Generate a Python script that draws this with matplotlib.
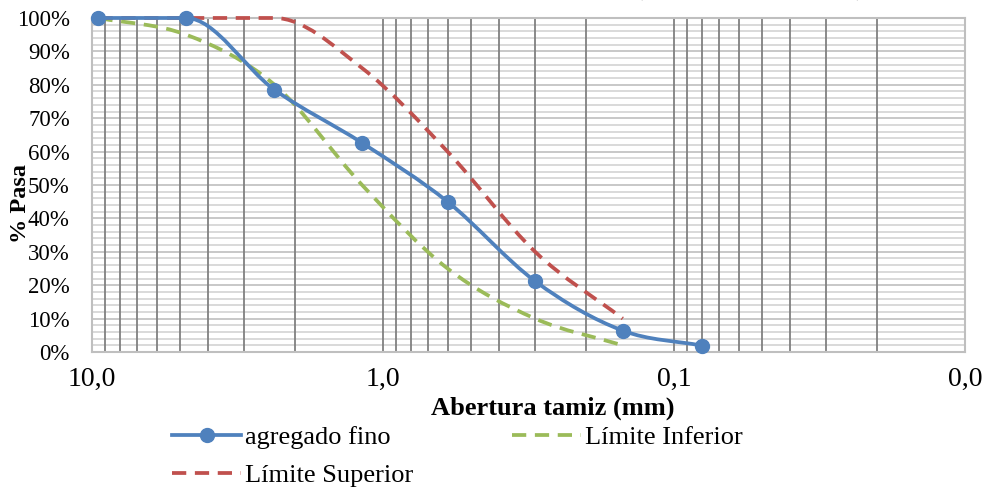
import numpy as np
import matplotlib
matplotlib.use("Agg")
import matplotlib.pyplot as plt
from matplotlib.path import Path
from matplotlib.patches import PathPatch
from matplotlib.lines import Line2D
from matplotlib.ticker import FixedLocator, FuncFormatter, LogLocator, MultipleLocator

plt.rcParams['font.family'] = ['Liberation Serif', 'DejaVu Serif']

# abertura de tamiz (mm) y porcentaje que pasa
tamiz = [9.5, 4.75, 2.36, 1.18, 0.6, 0.3, 0.15, 0.08]
agregado_fino = [100, 100, 78.5, 62.6, 45.0, 21.2, 6.4, 1.9]

tamiz_lim = [9.5, 4.75, 2.36, 1.18, 0.6, 0.3, 0.15]
lim_inferior = [100, 95, 80, 50, 25, 10, 2]
lim_superior = [100, 100, 100, 85, 60, 30, 10]

x_ticks = [10, 1, 0.1, 0.01]

azul = '#4F81BD'
verde = '#9BBB59'
rojo = '#C0504D'


def curva_suave(xs, ys):
    # curva suavizada (hermite monotona -> bezier) en espacio log-x
    lx = np.log10(xs)
    ys = np.asarray(ys, float)
    n = len(lx)
    dx = np.diff(lx)
    sec = np.diff(ys) / dx
    m = np.zeros(n)
    m[0] = sec[0]
    m[-1] = sec[-1]
    for i in range(1, n - 1):
        if sec[i - 1] * sec[i] <= 0:
            m[i] = 0.0
        else:
            m[i] = (sec[i - 1] + sec[i]) / 2
    if ys[0] == ys[1]:
        m[0] = 0.0
    verts = [(lx[0], ys[0])]
    codes = [Path.MOVETO]
    for i in range(n - 1):
        h = dx[i] / 3
        verts += [(lx[i] + h, ys[i] + m[i] * h),
                  (lx[i + 1] - h, ys[i + 1] - m[i + 1] * h),
                  (lx[i + 1], ys[i + 1])]
        codes += [Path.CURVE4] * 3
    verts = np.array(verts)
    verts[:, 0] = 10 ** verts[:, 0]
    return Path(verts, codes)


fig = plt.figure(figsize=(9.84, 4.9), dpi=100)
ax = fig.add_axes([0.0935, 0.2816, 0.8872, 0.6817])

ax.set_xscale('log')
ax.set_xlim(10, 0.01)
ax.set_ylim(0, 1)

# rejilla
ax.xaxis.set_major_locator(FixedLocator(x_ticks))
ax.xaxis.set_minor_locator(LogLocator(base=10, subs=np.arange(2, 10)))
ax.yaxis.set_major_locator(MultipleLocator(0.1))
ax.yaxis.set_minor_locator(MultipleLocator(0.02))
ax.grid(True, which='minor', axis='y', color='#D9D9D9', lw=1.4)
ax.grid(True, which='major', axis='y', color='#C8C8C8', lw=1.4)
ax.grid(True, which='both', axis='x', color='#808080', lw=1.3)
ax.set_axisbelow(True)
ax.xaxis.set_zorder(0.7)
for s in ax.spines.values():
    s.set_color('#BFBFBF')
    s.set_linewidth(1.5)

ax.xaxis.set_major_formatter(FuncFormatter(lambda v, p: f'{v:.1f}'.replace('.', ',')))
ax.xaxis.set_minor_formatter(FuncFormatter(lambda v, p: ''))
ax.yaxis.set_major_formatter(FuncFormatter(lambda v, p: f'{v*100:.0f}%'))
ax.tick_params(which='both', length=0)
ax.tick_params(axis='x', labelsize=20, pad=11)
ax.tick_params(axis='y', labelsize=16.5, pad=16)

lw = 2.7
dash = (3.8, 2.3)
ax.add_patch(PathPatch(curva_suave(tamiz_lim, np.array(lim_inferior) / 100), fill=False,
                       edgecolor=verde, lw=lw, linestyle=(0, dash), capstyle='butt',
                       zorder=3, clip_on=False))
ax.add_patch(PathPatch(curva_suave(tamiz_lim, np.array(lim_superior) / 100), fill=False,
                       edgecolor=rojo, lw=lw, linestyle=(0, dash), capstyle='butt',
                       zorder=3, clip_on=False))
ax.add_patch(PathPatch(curva_suave(tamiz, np.array(agregado_fino) / 100), fill=False,
                       edgecolor=azul, lw=lw, zorder=4, clip_on=False))
ax.plot(tamiz, np.array(agregado_fino) / 100, 'o', color=azul, ms=10, zorder=5, clip_on=False)

ax.set_xlabel('Abertura tamiz (mm)', fontsize=19, fontweight='bold', labelpad=3)
ax.xaxis.label.set_x(0.528)
fig.text(0.021, 0.584, '% Pasa', rotation=90, fontsize=17.5, fontweight='bold',
         ha='center', va='center')

# titulo cortado en la parte superior
fig.text(0.54, 1.012, 'Curva granulométrica del agregado fino (Límites ASTM C 33)',
         fontsize=18, fontweight='bold', ha='center', va='baseline')

handles = [
    Line2D([], [], color=azul, lw=lw, marker='o', ms=10),
    Line2D([], [], color=rojo, lw=lw, linestyle=(0, dash)),
    Line2D([], [], color=verde, lw=lw, linestyle=(0, dash)),
]
labels = ['agregado fino', 'Límite Superior', 'Límite Inferior']
fig.legend(handles, labels, loc='upper left', bbox_to_anchor=(0.175, 0.132),
           bbox_transform=fig.transFigure, ncol=2, frameon=False, fontsize=19,
           handlelength=2.6, handletextpad=0.15, columnspacing=3.75, labelspacing=0.55,
           borderpad=0, borderaxespad=0)

fig.savefig('out.png', dpi=100)
